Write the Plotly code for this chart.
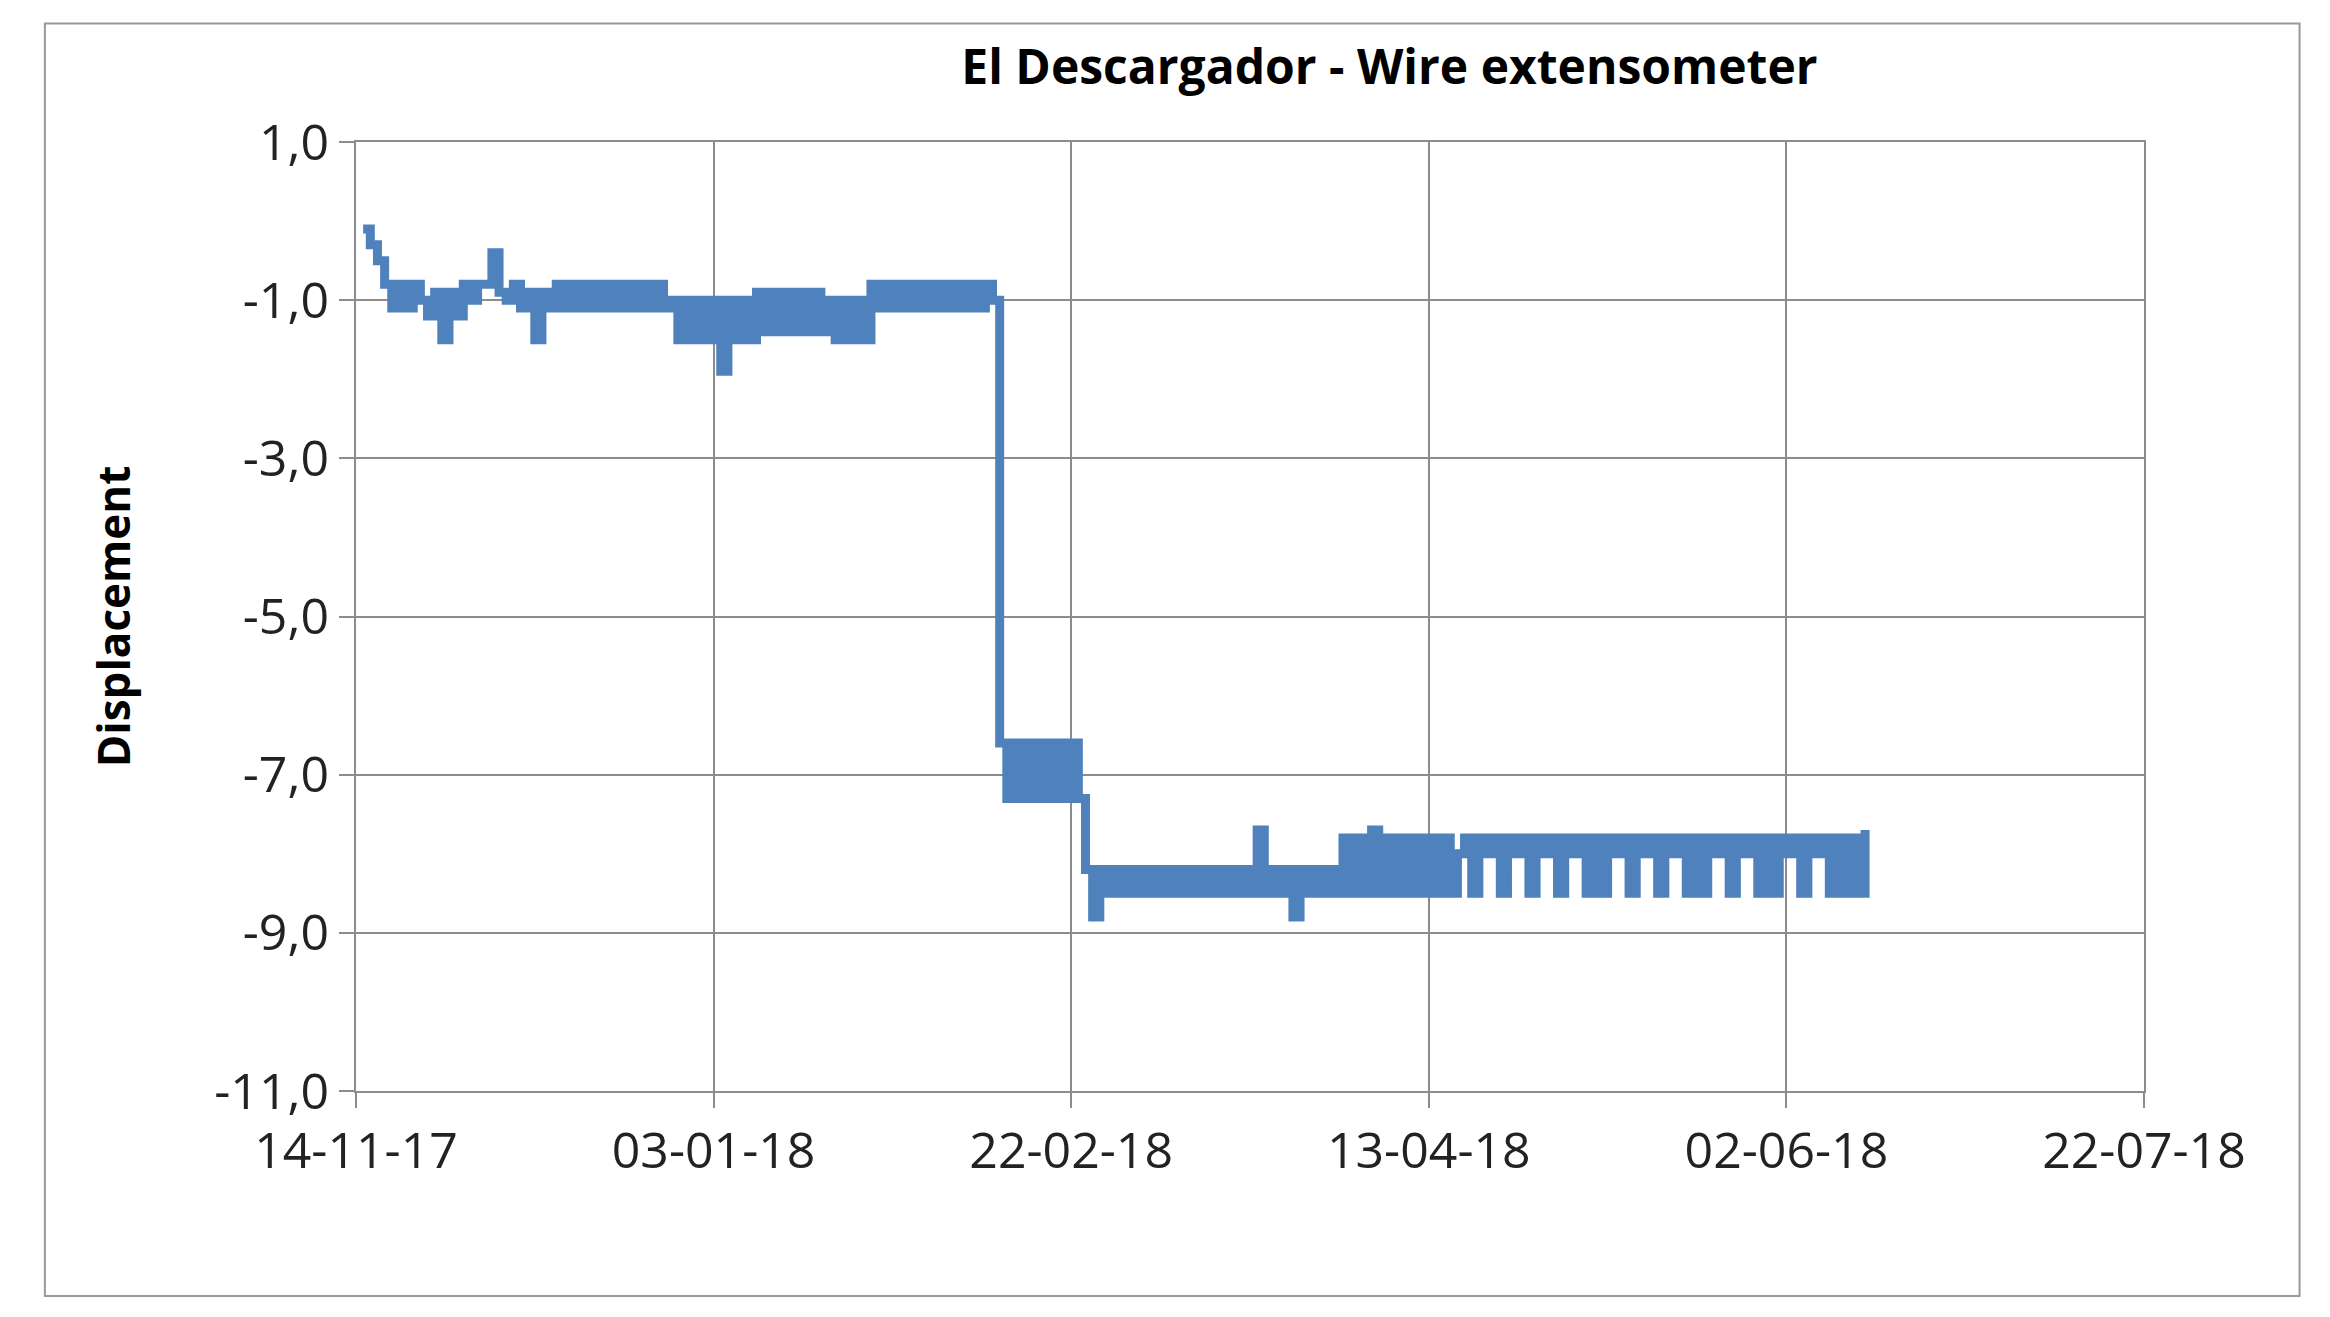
import plotly.graph_objects as go
import pandas as pd

start_date = "2017-11-14"
# day offsets and displacement values
seg_a = [-0.1,-0.3,-0.5,-0.8,-1.1,-0.8,-1.1,-0.8,-1.0,-1.2,-0.9,-1.5,-0.9,-1.2,-0.8,-1.0,-0.8,-0.8,-0.4,-0.9,-1.0,-0.8,-1.1,-0.9,-1.5,-0.9,-1.1]
seg_b = [-0.8,-1.1,-0.8,-1.1,-0.8,-1.1,-0.8,-1.1,-0.8,-1.1,-0.8,-1.1,-0.8,-1.1,-0.8,-1.1]
seg_c = [-1.0,-1.5,-1.0,-1.5,-1.0,-1.5,-1.0,-1.9,-1.0,-1.5,-1.0,-1.5]
seg_d = [-0.9,-1.4,-0.9,-1.4,-0.9,-1.4,-0.9,-1.4,-0.9,-1.4]
seg_e = [-1.0,-1.5,-1.0,-1.5,-1.0,-1.5]
seg_f = [-0.8,-1.1,-0.8,-1.1,-0.8,-1.1,-0.8,-1.1,-0.8,-1.1,-0.8,-1.1,-0.8,-1.1,-0.8,-1.1,-0.8,-1.0]
seg_g = [-6.6,-7.3,-6.6,-7.3,-6.6,-7.3,-6.6,-7.3,-6.6,-7.3,-6.6,-7.3]
seg_h = [-8.2,-8.8,-8.2,-8.5,-8.2,-8.5,-8.2,-8.5,-8.2,-8.5,-8.2,-8.5,-8.2,-8.5,-8.2,-8.5,-8.2,-8.5,-8.2,-8.5,-8.2,-8.5,-8.2,-8.5,-7.7,-8.5,-8.2,-8.5,-8.2,-8.8,-8.2,-8.5,-8.2,-8.5,-8.2,-8.5]
seg_i = [-7.8,-8.5,-7.8,-8.5,-7.7,-8.5,-7.8,-8.5,-7.8,-8.5,-7.8,-8.5,-7.8,-8.5,-7.8,-8.5,-8.0]
seg_j = [-7.8,-8.5,-7.8,-8.0,-7.8,-8.5,-7.8,-8.0,-7.8,-8.5,-7.8,-8.0,-7.8,-8.5,-7.8,-8.0,
         -7.8,-8.5,-7.8,-8.5,-7.8,-8.0,-7.8,-8.5,-7.8,-8.0,-7.8,-8.5,-7.8,-8.0,-7.8,-8.5,
         -7.8,-8.5,-7.8,-8.0,-7.8,-8.5,-7.8,-8.0,-7.8,-8.5,-7.8,-8.5,-7.8,-8.0,-7.8,-8.5,
         -7.8,-8.0,-7.8,-8.5,-7.8,-8.5,-7.8,-8.5,-7.7]
values = seg_a + seg_b + seg_c + seg_d + seg_e + seg_f + seg_g + seg_h + seg_i + seg_j
days = list(range(1, 1 + len(values)))
dates = pd.to_datetime(start_date) + pd.to_timedelta(days, unit="D")

y_ticks = [1.0, -1.0, -3.0, -5.0, -7.0, -9.0, -11.0]
y_labels = ["1,0", "-1,0", "-3,0", "-5,0", "-7,0", "-9,0", "-11,0"]

fig = go.Figure(go.Scatter(x=dates, y=values, mode="lines", line_shape="hv",
                           line=dict(color="#4F81BD", width=9)))
grid = "#8c8c8c"
font = "Open Sans"
fig.update_layout(
    width=2330, height=1317, paper_bgcolor="white", plot_bgcolor="white",
    margin=dict(l=348, r=194, t=134, b=234), showlegend=False,
    title=dict(text="<b>El Descargador - Wire extensometer</b>", xref="paper", x=0.578, xanchor="center",
               y=0.955, yanchor="middle", font=dict(family=font, size=48, color="black")),
    font=dict(family=font, color="#222"),
    shapes=[dict(type="rect", xref="paper", yref="paper", x0=-0.174, x1=1.087, y0=-0.216, y1=1.125,
                 line=dict(color="#999", width=2))],
)
fig.update_xaxes(type="date", range=["2017-11-14", "2018-07-22"], tick0="2017-11-14",
                 dtick=50*86400000, tickformat="%d-%m-%y", showgrid=True, gridcolor=grid,
                 gridwidth=2, showline=True, linecolor=grid, linewidth=2, mirror=True,
                 ticks="outside", ticklen=15, tickcolor=grid, tickwidth=2,
                 tickfont=dict(size=50), zeroline=False)
fig.update_yaxes(range=[-11, 1], tickvals=y_ticks, ticktext=y_labels, showgrid=True,
                 gridcolor=grid, gridwidth=2, showline=True, linecolor=grid, linewidth=2,
                 mirror=True, ticks="outside", ticklen=15, tickcolor=grid, tickwidth=2,
                 tickfont=dict(size=50), zeroline=False,
                 title=dict(text="<b>Displacement</b>", font=dict(size=44, color="black"), standoff=70))
fig.write_html("out.html")
